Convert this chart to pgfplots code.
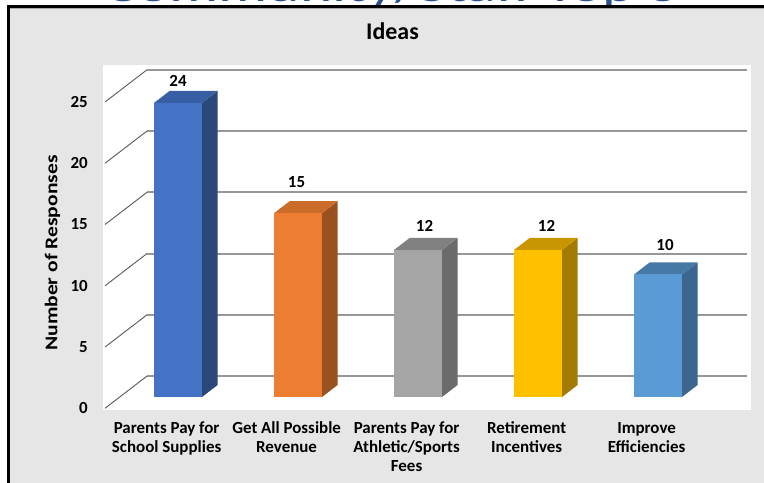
\documentclass[border=0pt]{standalone}
\usepackage{fontspec}
\setmainfont{Carlito}
\usepackage{pgfplots}
\pgfplotsset{compat=1.18}
\definecolor{bgGrey}{HTML}{E6E6E6}
\definecolor{titleBlue}{HTML}{2B4F8F}
\definecolor{gridGrey}{HTML}{979797}
\definecolor{diagGrey}{HTML}{595959}
\definecolor{cA}{HTML}{4472C4}
\definecolor{cB}{HTML}{ED7D31}
\definecolor{cC}{HTML}{A5A5A5}
\definecolor{cD}{HTML}{FFC000}
\definecolor{cE}{HTML}{5B9BD5}
\begin{document}
\begin{tikzpicture}[x=1bp,y=1bp]
\useasboundingbox (0,0) rectangle (764,483);
\clip (0,0) rectangle (764,483);
\fill[white] (0,0) rectangle (764,483);
\fill[bgGrey] (8.5,-10) rectangle (780,476.5);
\node[anchor=base west, inner sep=0pt, text=titleBlue] at (104,481.5)
  {\resizebox{576bp}{30bp}{Community/Staff Top 5}};
\draw[black, line width=3bp] (8.5,-10) -- (8.5,476.5) -- (780,476.5);
\draw[gray!70, line width=0.8bp] (10,474.6) -- (780,474.6);
\begin{axis}[
  at={(103bp,73bp)}, anchor=south west,
  scale only axis, width=648bp, height=345bp,
  xmin=-0.625, xmax=4.775, ymin=-1.061, ymax=27.10,
  axis background/.style={fill=white},
  axis line style={draw=none}, major tick length=0pt,
  clip=false,
  /pgf/number format/assume math mode=true,
  ytick={-0.92,4.08,9.08,14.08,19.08,24.08},
  yticklabels={0,5,10,15,20,25},
  yticklabel style={font=\fontsize{17}{20}\selectfont\bfseries, anchor=east, inner sep=0pt, xshift=-15bp},
  xtick={-0.095,0.905,1.905,2.905,3.905},
  xticklabels={{\strut Parents Pay for\\School Supplies},{\strut Get All Possible\\Revenue},{\strut Parents Pay for\\Athletic/Sports\\Fees},{\strut Retirement\\Incentives},{\strut Improve\\Efficiencies}},
  xticklabel style={font=\fontsize{17}{19}\selectfont\bfseries, align=center, anchor=north, inner sep=0pt, yshift=-10bp},
  title={Ideas},
  every axis title/.style={at={(axis description cs:0.4468,1.0725)}, anchor=base, font=\fontsize{24}{28}\selectfont\bfseries},
  ylabel={\scalebox{1.2}[1]{Number of Responses}},
  every axis y label/.style={at={(axis description cs:-0.0779,0.455)}, rotate=90, anchor=center, font=\fontsize{18}{22}\selectfont\bfseries},
  every node near coord/.style={font=\fontsize{17}{20}\selectfont\bfseries, anchor=south, inner sep=0pt, text=black},
]
% back wall gridlines
\addplot[gridGrey, line width=2bp, forget plot] coordinates {(-0.258,1.71) (4.742,1.71)};
\addplot[gridGrey, line width=2bp, forget plot] coordinates {(-0.258,6.71) (4.742,6.71)};
\addplot[gridGrey, line width=2bp, forget plot] coordinates {(-0.258,11.71) (4.742,11.71)};
\addplot[gridGrey, line width=2bp, forget plot] coordinates {(-0.258,16.71) (4.742,16.71)};
\addplot[gridGrey, line width=2bp, forget plot] coordinates {(-0.258,21.71) (4.742,21.71)};
\addplot[gridGrey, line width=2bp, forget plot] coordinates {(-0.258,26.71) (4.742,26.71)};
% side wall (left) diagonals
\addplot[diagGrey, line width=0.9bp, forget plot] coordinates {(-0.608,-0.92) (-0.258,1.71)};
\addplot[diagGrey, line width=0.9bp, forget plot] coordinates {(-0.608,4.08) (-0.258,6.71)};
\addplot[diagGrey, line width=0.9bp, forget plot] coordinates {(-0.608,9.08) (-0.258,11.71)};
\addplot[diagGrey, line width=0.9bp, forget plot] coordinates {(-0.608,14.08) (-0.258,16.71)};
\addplot[diagGrey, line width=0.9bp, forget plot] coordinates {(-0.608,19.08) (-0.258,21.71)};
\addplot[diagGrey, line width=0.9bp, forget plot] coordinates {(-0.608,24.08) (-0.258,26.71)};
% Bar 1: Parents Pay for School Supplies = 24
\addplot[fill=cA!63!black, draw=none, forget plot] coordinates {(0.2,0) (0.33,0.98) (0.33,24.98) (0.2,24)};
\addplot[fill=cA!83!black, draw=none, forget plot] coordinates {(-0.2,24) (0.2,24) (0.33,24.98) (-0.07,24.98)};
\addplot[ybar, bar width=0.4, bar shift=0pt, fill=cA, draw=none, nodes near coords,
  nodes near coords style={xshift=0bp, yshift=16bp}] coordinates {(0,24)};
% Bar 2: Get All Possible Revenue = 15
\addplot[fill=cB!65!black, draw=none, forget plot] coordinates {(1.2,0) (1.33,0.98) (1.33,15.98) (1.2,15)};
\addplot[fill=cB!86!black, draw=none, forget plot] coordinates {(0.8,15) (1.2,15) (1.33,15.98) (0.93,15.98)};
\addplot[ybar, bar width=0.4, bar shift=0pt, fill=cB, draw=none, nodes near coords,
  nodes near coords style={xshift=-1.5bp, yshift=25bp}] coordinates {(1,15)};
% Bar 3: Parents Pay for Athletic/Sports Fees = 12
\addplot[fill=cC!65!black, draw=none, forget plot] coordinates {(2.2,0) (2.33,0.98) (2.33,12.98) (2.2,12)};
\addplot[fill=cC!78!black, draw=none, forget plot] coordinates {(1.8,12) (2.2,12) (2.33,12.98) (1.93,12.98)};
\addplot[ybar, bar width=0.4, bar shift=0pt, fill=cC, draw=none, nodes near coords,
  nodes near coords style={xshift=6.5bp, yshift=18bp}] coordinates {(2,12)};
% Bar 4: Retirement Incentives = 12
\addplot[fill=cD!64!black, draw=none, forget plot] coordinates {(3.2,0) (3.33,0.98) (3.33,12.98) (3.2,12)};
\addplot[fill=cD!78!black, draw=none, forget plot] coordinates {(2.8,12) (3.2,12) (3.33,12.98) (2.93,12.98)};
\addplot[ybar, bar width=0.4, bar shift=0pt, fill=cD, draw=none, nodes near coords,
  nodes near coords style={xshift=8.5bp, yshift=18bp}] coordinates {(3,12)};
% Bar 5: Improve Efficiencies = 10
\addplot[fill=cE!66!black, draw=none, forget plot] coordinates {(4.2,0) (4.33,0.98) (4.33,10.98) (4.2,10)};
\addplot[fill=cE!78!black, draw=none, forget plot] coordinates {(3.8,10) (4.2,10) (4.33,10.98) (3.93,10.98)};
\addplot[ybar, bar width=0.4, bar shift=0pt, fill=cE, draw=none, nodes near coords,
  nodes near coords style={xshift=7bp, yshift=23.5bp}] coordinates {(4,10)};
\end{axis}
\end{tikzpicture}
\end{document}
